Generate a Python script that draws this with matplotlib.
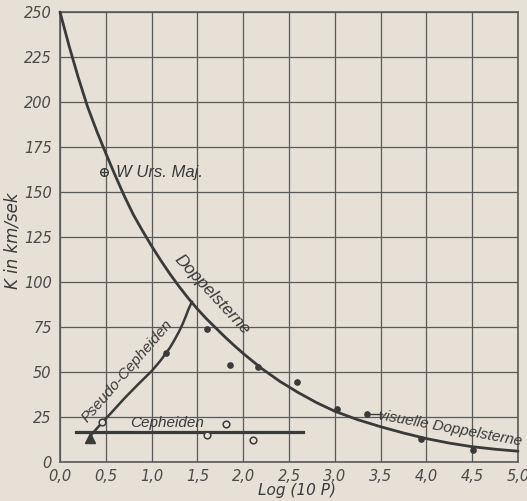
import numpy as np
import matplotlib.pyplot as plt

# ── Daten ────────────────────────────────────────────────────────────────────
# Kurve "Doppelsterne"
dopp_x = [0.0, 0.1, 0.2, 0.3, 0.4, 0.5, 0.6, 0.7, 0.8, 0.9, 1.0, 1.1, 1.2,
          1.3, 1.4, 1.5, 1.6, 1.7, 1.8, 1.9, 2.0, 2.2, 2.4, 2.6, 2.8, 3.0,
          3.25, 3.5, 3.75, 4.0, 4.25, 4.5, 4.75, 5.0]
dopp_k = [250, 231, 213.5, 197.5, 184, 171.5, 159.5, 148, 137.5, 128.5, 120,
          112, 104.5, 97.5, 91, 85, 79.5, 74.5, 69.5, 64.8, 60.3, 52, 44.8,
          38.6, 33, 28.2, 23.5, 19.6, 16.1, 13, 10.5, 8.5, 7.1, 6]

# Kurve "Pseudo-Cepheiden"
pseudo_x = [0.34, 0.40, 0.46, 0.55, 0.70, 0.85, 1.0, 1.1, 1.2, 1.25, 1.30,
            1.34, 1.37, 1.40, 1.42, 1.44]
pseudo_k = [15, 18.5, 22, 26.8, 35.2, 43, 50.5, 56.5, 63.5, 67.8, 72.5,
            76.8, 80.5, 84.5, 86.8, 89]

# Cepheiden (horizontale Linie)
ceph_x = [0.18, 2.65]
ceph_k = [16.8, 16.8]

# Einzelsterne
voll_x = [1.16, 1.60, 1.86, 2.16, 2.59, 3.02, 3.35, 3.94, 4.51]
voll_k = [60.5, 74, 54, 53, 44.5, 29.5, 26.7, 12.8, 6.7]
offen_x = [0.46, 1.61, 1.81, 2.11]
offen_k = [22, 15, 21, 12]
wuma_x, wuma_k = 0.48, 161
dreieck_x, dreieck_k = 0.33, 13.5

xticks = np.arange(0, 5.01, 0.5)
yticks = np.arange(0, 251, 25)

# ── Stil ─────────────────────────────────────────────────────────────────────
papier = '#e6e0d6'
tinte = '#3a3a3a'
raster = '#5a5a5a'
schrift = 'Liberation Sans'
ziffern = 'DejaVu Sans'

fig = plt.figure(figsize=(5.27, 5.01), dpi=100, facecolor=papier)
ax = fig.add_axes([60/527, 1 - 462/501, 458/527, 450/501], facecolor=papier)

ax.set_xlim(0, 5)
ax.set_ylim(0, 250)
ax.set_xticks(xticks)
ax.set_yticks(yticks)
ax.set_xticklabels([f'{v:.1f}'.replace('.', ',') for v in xticks])
ax.set_yticklabels([f'{v:d}' for v in yticks])
for lab in ax.get_xticklabels() + ax.get_yticklabels():
    lab.set_fontfamily(ziffern)
    lab.set_fontstyle('italic')
    lab.set_fontsize(10.5)
    lab.set_color('#4a4a4a')
ax.tick_params(axis='x', length=0, pad=5)
ax.tick_params(axis='y', length=0, pad=6)
ax.grid(True, color=raster, linewidth=0.9)
for s in ax.spines.values():
    s.set_color(raster)
    s.set_linewidth(1.2)

# ── Kurven und Punkte ────────────────────────────────────────────────────────
ax.plot(dopp_x, dopp_k, color=tinte, linewidth=2.0, solid_capstyle='round',
        solid_joinstyle='round', zorder=3, clip_on=False)
ax.plot(pseudo_x, pseudo_k, color=tinte, linewidth=1.8,
        solid_joinstyle='round', zorder=3)
ax.plot(ceph_x, ceph_k, color=tinte, linewidth=2.3, zorder=3)

ax.plot(voll_x, voll_k, 'o', color=tinte, markersize=3.8, zorder=4)
ax.plot(offen_x, offen_k, 'o', markerfacecolor=papier, markeredgecolor=tinte,
        markeredgewidth=1.1, markersize=4.8, zorder=4)
ax.plot(wuma_x, wuma_k, 'o', markerfacecolor=papier, markeredgecolor=tinte,
        markeredgewidth=1.0, markersize=5.5, zorder=4)
ax.plot(wuma_x, wuma_k, '+', color=tinte, markeredgewidth=0.9,
        markersize=5.5, zorder=5)
ax.plot(dreieck_x, dreieck_k, '^', color=tinte, markersize=7, zorder=4)

# ── Beschriftungen ───────────────────────────────────────────────────────────
txt = dict(color=tinte, fontfamily=schrift, fontstyle='italic',
           rotation_mode='anchor', ha='center', va='center')
ax.text(1.66, 93, 'Doppelsterne', fontsize=12.5, rotation=-47, **txt)
ax.text(0.73, 50.6, 'Pseudo-Cepheiden', fontsize=11, rotation=49, **txt)
ax.text(1.17, 21.5, 'Cepheiden', fontsize=11, **txt)
ax.text(4.26, 18.7, 'visuelle Doppelsterne', fontsize=11, rotation=-10.5,
        **txt)
ax.plot([3.40, 3.52], [26.7, 26.7], color=tinte, linewidth=1.0)
ax.text(0.61, 161, 'W Urs. Maj.', fontsize=12, color=tinte,
        fontfamily=schrift, fontstyle='italic', ha='left', va='center')

fig.text(13/527, 1 - 241/501, 'K in km/sek', rotation=90, fontsize=12,
         color=tinte, fontfamily=ziffern, fontstyle='italic',
         ha='center', va='center')
fig.text(297/527, 1 - 490/501, 'Log (10 P)', fontsize=11,
         color=tinte, fontfamily=ziffern, fontstyle='italic',
         ha='center', va='center')

fig.savefig('out.png', dpi=100, facecolor=papier)
